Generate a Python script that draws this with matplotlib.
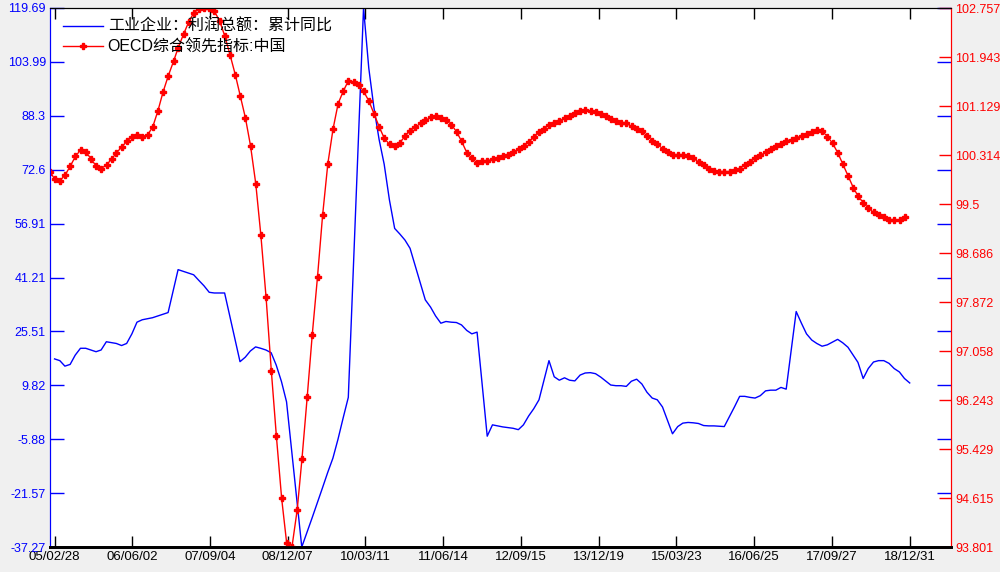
import numpy as np
import pandas as pd
import matplotlib
matplotlib.use('Agg')
import matplotlib.pyplot as plt
import matplotlib.dates as mdates

plt.rcParams['font.family'] = ['Liberation Sans', 'Noto Sans CJK SC', 'DejaVu Sans']

# OECD composite leading indicator, China (monthly, from 2005-02)
oecd = [100.04, 99.91, 99.89, 99.98, 100.13, 100.29, 100.40, 100.37, 100.25, 100.13, 100.09,
        100.15, 100.25, 100.35, 100.45, 100.54, 100.62, 100.65, 100.62, 100.65, 100.78, 101.05,
        101.36, 101.63, 101.87, 102.10, 102.32, 102.52, 102.68, 102.74, 102.757, 102.75, 102.70,
        102.54, 102.29, 101.98, 101.65, 101.30, 100.93, 100.47, 99.84, 98.99, 97.95, 96.73,
        95.64, 94.61, 93.86, 93.801, 94.42, 95.26, 96.29, 97.33, 98.29, 99.31, 100.17, 100.75,
        101.17, 101.38, 101.55, 101.52, 101.48, 101.37, 101.21, 101.00, 100.78, 100.59, 100.49,
        100.47, 100.52, 100.63, 100.72, 100.78, 100.84, 100.89, 100.94, 100.96, 100.93, 100.89,
        100.82, 100.70, 100.54, 100.35, 100.26, 100.18, 100.21, 100.22, 100.24, 100.26, 100.29,
        100.32, 100.37, 100.41, 100.46, 100.53, 100.61, 100.69, 100.75, 100.82, 100.85, 100.88,
        100.93, 100.97, 101.01, 101.05, 101.06, 101.04, 101.03, 101.00, 100.96, 100.92, 100.88,
        100.85, 100.84, 100.79, 100.75, 100.71, 100.63, 100.55, 100.49, 100.42, 100.37, 100.32,
        100.32, 100.32, 100.29, 100.26, 100.20, 100.14, 100.09, 100.05, 100.04, 100.04, 100.04,
        100.06, 100.09, 100.15, 100.20, 100.26, 100.31, 100.36, 100.41, 100.46, 100.50, 100.55,
        100.57, 100.60, 100.63, 100.67, 100.70, 100.73, 100.71, 100.62, 100.51, 100.35, 100.16,
        99.96, 99.77, 99.63, 99.52, 99.43, 99.36, 99.31, 99.28, 99.23, 99.23, 99.23, 99.28]

# industrial profit, cumulative yoy (%), Jan..Dec per row, nan = not published
nan = np.nan
profit = [
    nan, 17.5, 17.0, 15.4, 15.9, 18.6, 20.6, 20.6, 20.1, 19.6, 20.1, 22.5,   # 2005
    nan, 22.0, 21.4, 22.0, 24.8, 28.2, 28.9, 29.2, 29.5, 30.0, 30.5, 31.0,   # 2006
    nan, 43.5, 43.0, 42.5, 42.0, 40.4, 38.8, 36.9, 36.7, 36.7, 36.7, nan,    # 2007
    nan, 16.7, 18.0, 19.8, 21.0, 20.6, 20.1, 19.3, 15.7, 10.9, 5.0, nan,     # 2008
    nan, -37.27, -33.0, -28.8, -24.4, -20.1, -15.6, -11.4, -5.9, 0.4, 6.3, nan,
    nan, 119.69, 102.2, 90.8, 81.4, 74.2, 63.8, 55.5, 53.9, 52.1, 49.7, nan,
    nan, 34.7, 32.6, 30.0, 27.9, 28.4, 28.2, 28.1, 27.4, 25.8, 24.8, 25.3,   # 2011
    nan, -5.0, -1.7, -2.0, -2.3, -2.5, -2.7, -3.1, -1.7, 0.9, 3.0, 5.6,      # 2012
    nan, 17.0, 12.3, 11.3, 12.0, 11.3, 11.1, 12.8, 13.4, 13.5, 13.2, 12.2,   # 2013
    nan, 9.9, 9.7, 9.7, 9.5, 11.0, 11.6, 10.2, 7.8, 6.1, 5.6, 3.5,           # 2014
    nan, -4.3, -2.2, -1.2, -1.0, -1.1, -1.3, -1.9, -2.0, -2.0, -2.1, -2.2,   # 2015
    nan, 3.5, 6.6, 6.6, 6.3, 6.1, 6.8, 8.2, 8.4, 8.4, 9.2, 8.7,              # 2016
    nan, 31.3, 27.9, 24.8, 23.0, 22.0, 21.2, 21.6, 22.4, 23.2, 22.2, 20.9,   # 2017
    nan, 16.5, 11.8, 14.7, 16.6, 17.0, 17.0, 16.2, 14.7, 13.7, 11.8, 10.5,   # 2018
]

left_labels = ['-37.27', '-21.57', '-5.88', '9.82', '25.51', '41.21',
               '56.91', '72.6', '88.3', '103.99', '119.69']
right_labels = ['93.801', '94.615', '95.429', '96.243', '97.058', '97.872',
                '98.686', '99.5', '100.314', '101.129', '101.943', '102.757']
x_labels = ['05/02/28', '06/06/02', '07/09/04', '08/12/07', '10/03/11', '11/06/14',
            '12/09/15', '13/12/19', '15/03/23', '16/06/25', '17/09/27', '18/12/31']

profit = np.array(profit)
blue_dates = pd.date_range('2005-01-31', periods=len(profit), freq='ME')
ok = ~np.isnan(profit)
red_dates = pd.date_range('2005-02-01', periods=len(oecd), freq='MS')
tick_dates = pd.to_datetime(x_labels, format='%y/%m/%d')

fig = plt.figure(figsize=(10, 5.72), dpi=100, facecolor='#f0f0f0')
ax = fig.add_axes([0.05, 25 / 572, 0.901, 539 / 572])
ax2 = ax.twinx()

l1, = ax.plot(blue_dates[ok], profit[ok], color='blue', lw=1)
l2, = ax2.plot(red_dates, oecd, color='red', lw=1, marker='P', ms=4.5)

ax.set_xlim(mdates.date2num(pd.Timestamp('2005-02-01')),
            mdates.date2num(pd.Timestamp('2019-09-01')))
ax.set_ylim(-37.27, 119.69)
ax2.set_ylim(93.801, 102.757)

ax.set_yticks(np.linspace(-37.27, 119.69, 11))
ax.set_yticklabels(left_labels)
ax2.set_yticks(np.linspace(93.801, 102.757, 12))
ax2.set_yticklabels(right_labels)
ax.set_xticks(tick_dates)
ax.set_xticklabels(x_labels)

ax.tick_params(axis='y', direction='in', length=10, width=1, colors='blue',
               labelsize=9, right=True, pad=3)
ax.tick_params(axis='x', direction='in', length=8, width=1, top=True,
               colors='black', labelsize=9.5, pad=3)
ax2.tick_params(axis='y', direction='in', length=9, width=1, colors='red',
                labelsize=9, pad=3)

for a in (ax, ax2):
    a.spines['left'].set_color('blue')
    a.spines['right'].set_color('red')
    a.spines['top'].set_color('black')
    a.spines['bottom'].set_color('black')
    a.spines['bottom'].set_linewidth(2)

ax2.legend([l1, l2], ['工业企业：利润总额：累计同比', 'OECD综合领先指标:中国'],
           loc='upper left', bbox_to_anchor=(0.063, 1 - 19 / 572),
           bbox_transform=fig.transFigure, frameon=False, fontsize=11.5,
           handlelength=2.5, handletextpad=0.3, labelspacing=0.3,
           borderpad=0, borderaxespad=0, numpoints=1)

fig.savefig('out.png', dpi=100, facecolor=fig.get_facecolor())
